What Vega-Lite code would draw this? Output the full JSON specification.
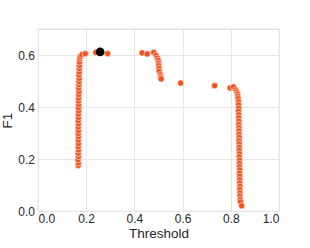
{
  "$schema": "https://vega.github.io/schema/vega-lite/v6.json",
  "autosize": {"type": "none"},
  "width": 241,
  "height": 182,
  "padding": {"left": 38, "top": 29, "right": 31, "bottom": 37},
  "config": {
    "font": "Liberation Sans",
    "view": {"stroke": "#dcdcdc", "strokeWidth": 1.2},
    "axis": {
      "grid": true, "gridColor": "#e6e6e6", "gridWidth": 1,
      "domain": false, "ticks": false,
      "labelFont": "Liberation Sans", "labelFontSize": 12, "labelColor": "#262626",
      "titleFont": "Liberation Sans", "titleFontSize": 13.5, "titleFontWeight": "normal", "titleColor": "#262626"
    }
  },
  "data": {"values": [
    {"t": 0.167, "f1": 0.175, "kind": "curve"},
    {"t": 0.168, "f1": 0.185, "kind": "curve"},
    {"t": 0.166, "f1": 0.197, "kind": "curve"},
    {"t": 0.168, "f1": 0.21, "kind": "curve"},
    {"t": 0.167, "f1": 0.222, "kind": "curve"},
    {"t": 0.168, "f1": 0.235, "kind": "curve"},
    {"t": 0.167, "f1": 0.248, "kind": "curve"},
    {"t": 0.168, "f1": 0.26, "kind": "curve"},
    {"t": 0.167, "f1": 0.273, "kind": "curve"},
    {"t": 0.168, "f1": 0.286, "kind": "curve"},
    {"t": 0.167, "f1": 0.298, "kind": "curve"},
    {"t": 0.168, "f1": 0.31, "kind": "curve"},
    {"t": 0.167, "f1": 0.323, "kind": "curve"},
    {"t": 0.168, "f1": 0.335, "kind": "curve"},
    {"t": 0.167, "f1": 0.348, "kind": "curve"},
    {"t": 0.168, "f1": 0.36, "kind": "curve"},
    {"t": 0.168, "f1": 0.373, "kind": "curve"},
    {"t": 0.169, "f1": 0.386, "kind": "curve"},
    {"t": 0.168, "f1": 0.398, "kind": "curve"},
    {"t": 0.169, "f1": 0.41, "kind": "curve"},
    {"t": 0.168, "f1": 0.423, "kind": "curve"},
    {"t": 0.169, "f1": 0.435, "kind": "curve"},
    {"t": 0.169, "f1": 0.448, "kind": "curve"},
    {"t": 0.17, "f1": 0.46, "kind": "curve"},
    {"t": 0.169, "f1": 0.473, "kind": "curve"},
    {"t": 0.17, "f1": 0.486, "kind": "curve"},
    {"t": 0.17, "f1": 0.498, "kind": "curve"},
    {"t": 0.171, "f1": 0.51, "kind": "curve"},
    {"t": 0.17, "f1": 0.523, "kind": "curve"},
    {"t": 0.171, "f1": 0.535, "kind": "curve"},
    {"t": 0.171, "f1": 0.548, "kind": "curve"},
    {"t": 0.172, "f1": 0.56, "kind": "curve"},
    {"t": 0.172, "f1": 0.573, "kind": "curve"},
    {"t": 0.173, "f1": 0.586, "kind": "curve"},
    {"t": 0.176, "f1": 0.595, "kind": "curve"},
    {"t": 0.183, "f1": 0.602, "kind": "curve"},
    {"t": 0.196, "f1": 0.605, "kind": "curve"},
    {"t": 0.24, "f1": 0.61, "kind": "curve"},
    {"t": 0.289, "f1": 0.605, "kind": "curve"},
    {"t": 0.432, "f1": 0.608, "kind": "curve"},
    {"t": 0.453, "f1": 0.604, "kind": "curve"},
    {"t": 0.48, "f1": 0.61, "kind": "curve"},
    {"t": 0.49, "f1": 0.598, "kind": "curve"},
    {"t": 0.495, "f1": 0.588, "kind": "curve"},
    {"t": 0.499, "f1": 0.579, "kind": "curve"},
    {"t": 0.5, "f1": 0.568, "kind": "curve"},
    {"t": 0.501, "f1": 0.559, "kind": "curve"},
    {"t": 0.502, "f1": 0.548, "kind": "curve"},
    {"t": 0.503, "f1": 0.537, "kind": "curve"},
    {"t": 0.508, "f1": 0.524, "kind": "curve"},
    {"t": 0.509, "f1": 0.515, "kind": "curve"},
    {"t": 0.511, "f1": 0.508, "kind": "curve"},
    {"t": 0.592, "f1": 0.492, "kind": "curve"},
    {"t": 0.733, "f1": 0.482, "kind": "curve"},
    {"t": 0.797, "f1": 0.473, "kind": "curve"},
    {"t": 0.811, "f1": 0.477, "kind": "curve"},
    {"t": 0.821, "f1": 0.466, "kind": "curve"},
    {"t": 0.825, "f1": 0.458, "kind": "curve"},
    {"t": 0.828, "f1": 0.45, "kind": "curve"},
    {"t": 0.829, "f1": 0.441, "kind": "curve"},
    {"t": 0.83, "f1": 0.432, "kind": "curve"},
    {"t": 0.832, "f1": 0.42, "kind": "curve"},
    {"t": 0.832, "f1": 0.408, "kind": "curve"},
    {"t": 0.833, "f1": 0.395, "kind": "curve"},
    {"t": 0.832, "f1": 0.383, "kind": "curve"},
    {"t": 0.833, "f1": 0.37, "kind": "curve"},
    {"t": 0.833, "f1": 0.358, "kind": "curve"},
    {"t": 0.834, "f1": 0.345, "kind": "curve"},
    {"t": 0.833, "f1": 0.333, "kind": "curve"},
    {"t": 0.834, "f1": 0.32, "kind": "curve"},
    {"t": 0.834, "f1": 0.308, "kind": "curve"},
    {"t": 0.834, "f1": 0.295, "kind": "curve"},
    {"t": 0.835, "f1": 0.283, "kind": "curve"},
    {"t": 0.834, "f1": 0.27, "kind": "curve"},
    {"t": 0.835, "f1": 0.258, "kind": "curve"},
    {"t": 0.835, "f1": 0.245, "kind": "curve"},
    {"t": 0.835, "f1": 0.233, "kind": "curve"},
    {"t": 0.836, "f1": 0.22, "kind": "curve"},
    {"t": 0.835, "f1": 0.208, "kind": "curve"},
    {"t": 0.836, "f1": 0.195, "kind": "curve"},
    {"t": 0.836, "f1": 0.183, "kind": "curve"},
    {"t": 0.836, "f1": 0.17, "kind": "curve"},
    {"t": 0.837, "f1": 0.158, "kind": "curve"},
    {"t": 0.836, "f1": 0.145, "kind": "curve"},
    {"t": 0.837, "f1": 0.133, "kind": "curve"},
    {"t": 0.837, "f1": 0.12, "kind": "curve"},
    {"t": 0.837, "f1": 0.108, "kind": "curve"},
    {"t": 0.838, "f1": 0.095, "kind": "curve"},
    {"t": 0.837, "f1": 0.083, "kind": "curve"},
    {"t": 0.838, "f1": 0.07, "kind": "curve"},
    {"t": 0.838, "f1": 0.058, "kind": "curve"},
    {"t": 0.839, "f1": 0.045, "kind": "curve"},
    {"t": 0.84, "f1": 0.035, "kind": "curve"},
    {"t": 0.845, "f1": 0.02, "kind": "curve"},
    {"t": 0.258, "f1": 0.612, "kind": "best"}
  ]},
  "encoding": {
    "x": {"field": "t", "type": "quantitative", "title": "Threshold",
          "scale": {"domain": [0, 1], "nice": false},
          "axis": {"values": [0, 0.2, 0.4, 0.6, 0.8, 1.0], "format": ".1f", "labelPadding": 2.5, "titlePadding": 1.5}},
    "y": {"field": "f1", "type": "quantitative", "title": "F1",
          "scale": {"domain": [0, 0.7], "nice": false},
          "axis": {"values": [0, 0.2, 0.4, 0.6], "format": ".1f", "labelPadding": 3.5, "titlePadding": 3}}
  },
  "layer": [
    {
      "transform": [{"filter": "datum.kind === 'curve'"}],
      "mark": {"type": "circle", "size": 40, "color": "#f4511e", "opacity": 1, "stroke": "white", "strokeWidth": 0.6}
    },
    {
      "transform": [{"filter": "datum.kind === 'best'"}],
      "mark": {"type": "circle", "size": 75, "color": "black", "opacity": 1}
    }
  ]
}
